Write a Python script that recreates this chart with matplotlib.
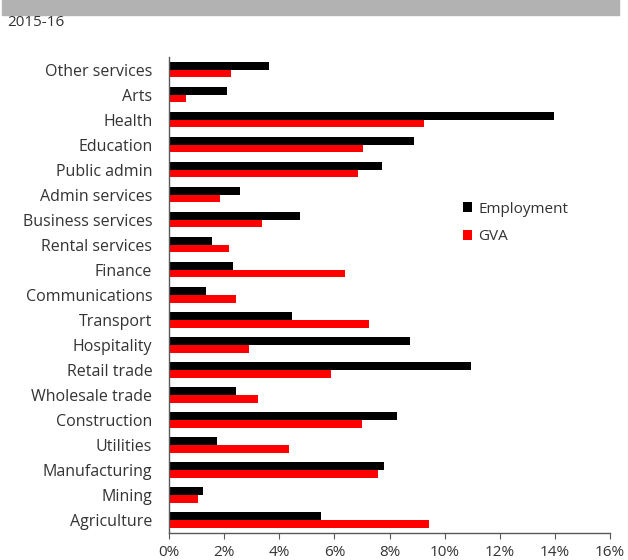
import matplotlib
matplotlib.use("Agg")
import matplotlib.pyplot as plt
import numpy as np
from matplotlib.ticker import FuncFormatter, MultipleLocator

categories = ["Other services", "Arts", "Health", "Education", "Public admin",
              "Admin services", "Business services", "Rental services", "Finance",
              "Communications", "Transport", "Hospitality", "Retail trade",
              "Wholesale trade", "Construction", "Utilities", "Manufacturing",
              "Mining", "Agriculture"]
employment = [3.62, 2.09, 13.98, 8.90, 7.74, 2.56, 4.74, 1.55, 2.31, 1.33,
              4.47, 8.76, 10.94, 2.44, 8.27, 1.74, 7.79, 1.23, 5.50]
gva = [2.26, 0.62, 9.25, 7.03, 6.86, 1.86, 3.37, 2.17, 6.37, 2.44,
       7.25, 2.92, 5.88, 3.24, 6.99, 4.35, 7.57, 1.06, 9.42]
subtitle = "2015-16"
series_names = ["Employment", "GVA"]

plt.rcParams['font.family'] = ['Open Sans', 'DejaVu Sans']
txt = '#333333'

fig = plt.figure(figsize=(6.28, 5.6), dpi=100)
# grey header band
fig.patches.append(plt.Rectangle((0.003, 1 - 15/560), 0.982, 15/560,
                                 transform=fig.transFigure, color='#b2b2b2', zorder=0))
fig.text(7/628, 1 - 23/560, subtitle, fontsize=11, color=txt, va='center', ha='left')

ax = fig.add_axes([169/628, 1 - 532.5/560, (610 - 169)/628, (532.5 - 57)/560])
n = len(categories)
y = np.arange(n)
h = 0.31
ax.barh(y - h/2, employment, height=h, color='black', label=series_names[0])
ax.barh(y + h/2, gva, height=h, color='#ff0000', label=series_names[1])

ax.set_ylim(n - 0.5, -0.5)
ax.set_xlim(0, 16)
ax.set_yticks(y)
ax.set_yticklabels(categories)
ax.xaxis.set_major_locator(MultipleLocator(2))
ax.xaxis.set_major_formatter(FuncFormatter(lambda v, p: f"{v:.0f}%"))

for s in ['top', 'right']:
    ax.spines[s].set_visible(False)
for s in ['left', 'bottom']:
    ax.spines[s].set_color('#595959')
    ax.spines[s].set_linewidth(1.0)
ax.tick_params(axis='y', length=0, pad=12, labelsize=11.5, labelcolor=txt)
ax.tick_params(axis='x', length=4, color='#595959', direction='out', pad=5,
               labelsize=11, labelcolor=txt)

leg = ax.legend(loc='upper left', bbox_to_anchor=(0.635, 0.725), frameon=False,
                fontsize=11, handlelength=0.6, handleheight=0.6,
                handletextpad=0.4, labelspacing=0.85, labelcolor=txt)

fig.savefig("out.png", dpi=100)
